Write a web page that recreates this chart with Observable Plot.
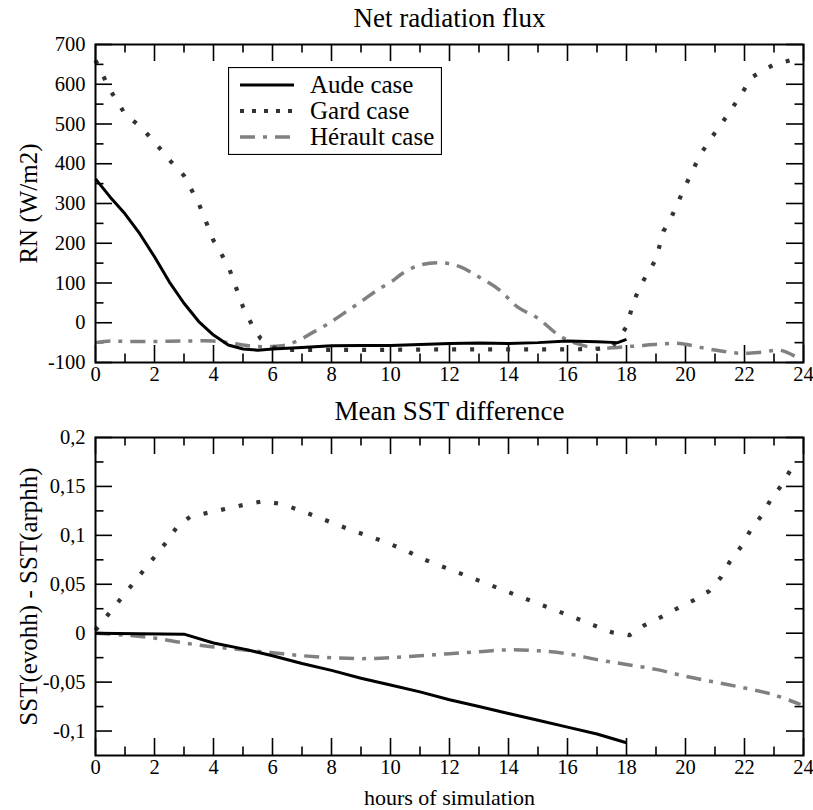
<!DOCTYPE html>
<html>
<head>
<meta charset="utf-8">
<script src="https://cdn.jsdelivr.net/npm/d3@7"></script>
<script src="https://cdn.jsdelivr.net/npm/@observablehq/plot@0.6"></script>
<style>
  body { margin: 0; background: #fff; }
  #wrap { position: relative; width: 813px; height: 810px; font-family: "Liberation Serif", "Times New Roman", Times, serif; }
  #wrap svg { display: block; }
  #wrap svg text { font-family: "Liberation Serif", "Times New Roman", Times, serif; }
</style>
</head>
<body>
<div id="wrap"></div>
<script>
// ---------- data ----------
const seriesNames = ["Aude case", "Gard case", "Hérault case"];

// Top panel: Net radiation flux (W/m2)
const rnAudeH = [0,0.5,1,1.5,2,2.5,3,3.5,4,4.5,5,5.5,6,7,8,9,10,11,12,13,14,15,16,17,17.7,18];
const rnAudeV = [362,316,274,224,166,103,49,3,-31,-56,-66,-69,-66,-62,-58,-57,-57,-55,-52,-51,-52,-50,-46,-48,-50,-42];

const rnGardH = [0,0.5,1,1.5,2,2.5,3,3.5,4,4.5,5,5.3,5.6,6,6.5,8,10,12,14,16,17,17.5,17.75,18,18.25,18.5,19,19.25,19.5,20,20.5,21,21.5,22,22.25,22.6,23,23.6,23.8];
const rnGardV = [660,585,525,495,455,410,370,300,207,143,40,-5,-40,-62,-68,-68,-68,-67,-67,-67,-66,-62,-38,-10,55,97,160,230,262,345,423,478,530,588,618,633,650,661,662];

const rnHerH = [0,0.5,1,2,3,4,4.5,5,5.5,6,6.5,7,7.4,7.9,8.4,9,9.55,10.1,10.4,11,11.7,12.35,13,13.7,14.3,15,15.7,16.3,17,17.7,18.4,19.1,19.8,20.5,21.2,21.9,22.6,23.2,23.7];
const rnHerV = [-50,-46,-47,-47,-46,-46,-50,-56,-60,-60,-55,-40,-23,-2,23,53,82,107,124,145,151,141,115,82,40,11,-31,-52,-64,-62,-58,-54,-52,-62,-71,-77,-74,-69,-84];

// Bottom panel: Mean SST difference
const sstAudeH = [0,3,4,5,6,7,8,9,10,11,12,13,14,15,16,17,18];
const sstAudeV = [0,-0.001,-0.010,-0.016,-0.023,-0.031,-0.038,-0.046,-0.053,-0.060,-0.068,-0.075,-0.082,-0.089,-0.096,-0.103,-0.112];

const sstGardH = [0,0.4,0.8,1.2,1.6,2,2.4,2.75,3.2,3.8,4.4,5,5.7,6.3,6.9,7.5,8.1,8.7,9.3,9.9,10.5,11,11.6,12.2,12.8,13.4,14,14.6,15.2,15.8,16.4,16.9,17.5,18.1,18.6,19.2,19.7,20.3,20.8,21.2,21.5,21.9,22.2,22.6,22.9,23.3,23.6,23.8];
const sstGardV = [0.003,0.018,0.033,0.048,0.063,0.078,0.093,0.108,0.119,0.123,0.127,0.131,0.135,0.132,0.126,0.119,0.112,0.105,0.099,0.092,0.085,0.077,0.070,0.063,0.056,0.049,0.042,0.035,0.028,0.021,0.014,0.008,0.001,-0.002,0.008,0.017,0.025,0.034,0.043,0.057,0.073,0.089,0.105,0.121,0.137,0.153,0.169,0.175];

const sstHerH = [0,1,2,3,4,5,6,7,8,9,10,11,12,13,14,15,16,17,18,19,20,21,22,23,23.9];
const sstHerV = [0,-0.002,-0.005,-0.010,-0.014,-0.017,-0.020,-0.023,-0.025,-0.026,-0.025,-0.023,-0.021,-0.019,-0.017,-0.018,-0.021,-0.027,-0.032,-0.037,-0.044,-0.050,-0.056,-0.063,-0.073];

// ticks
const xMajor = [0,2,4,6,8,10,12,14,16,18,20,22,24];
const xMinor = [1,3,5,7,9,11,13,15,17,19,21,23];
const rnMajor = [-100,0,100,200,300,400,500,600,700];
const rnMinor = [-50,50,150,250,350,450,550,650];
const sstMajor = [-0.1,-0.05,0,0.05,0.1,0.15,0.2];
const sstMinor = [-0.075,-0.025,0.025,0.075,0.125,0.175];

const titles = ["Net radiation flux", "Mean SST difference"];
const yLabels = ["RN (W/m2)", "SST(evohh) - SST(arphh)"];
const xLabel = "hours of simulation";

// ---------- styles ----------
const FONT = "'Liberation Serif', 'Times New Roman', Times, serif";
const FS_TICK = 20.5, FS_TITLE = 27, FS_YLAB = 25, FS_XLAB = 22, FS_LEG = 25;
const styles = {
  "Aude case":    {stroke: "#000000", strokeWidth: 3, strokeDasharray: null, curve: "linear"},
  "Gard case":    {stroke: "#333333", strokeWidth: 4.2, strokeDasharray: "4,14", curve: "linear"},
  "Hérault case": {stroke: "#808080", strokeWidth: 3.5, strokeDasharray: "15,8,4,8", curve: "catmull-rom"}
};

const zipS = (hs, vs) => hs.map((h, i) => ({h, v: vs[i]}));

function panel({height, marginTop, marginBottom, yDomain, major, minor, fmt, series, title, ylabel, xlab}) {
  const W = 813, ML = 95, MR = 10;
  const innerW = W - ML - MR;
  const innerH = height - marginTop - marginBottom;
  const MAJ = 17, MIN = 8.5;
  const tickStyle = {stroke: "black", strokeWidth: 1.6};
  const marks = [];
  marks.push(Plot.tickX(xMajor, {x: d => d, insetTop: innerH - MAJ, ...tickStyle}));
  marks.push(Plot.tickX(xMinor, {x: d => d, insetTop: innerH - MIN, ...tickStyle}));
  marks.push(Plot.tickX(xMajor, {x: d => d, insetBottom: innerH - MAJ, ...tickStyle}));
  marks.push(Plot.tickX(xMinor, {x: d => d, insetBottom: innerH - MIN, ...tickStyle}));
  marks.push(Plot.tickY(major, {y: d => d, insetRight: innerW - MAJ, ...tickStyle}));
  marks.push(Plot.tickY(minor, {y: d => d, insetRight: innerW - MIN, ...tickStyle}));
  marks.push(Plot.tickY(major, {y: d => d, insetLeft: innerW - MAJ, ...tickStyle}));
  marks.push(Plot.tickY(minor, {y: d => d, insetLeft: innerW - MIN, ...tickStyle}));
  for (const s of series) {
    const st = styles[s.name];
    marks.push(Plot.line(s.data, {x: "h", y: "v", stroke: st.stroke, strokeWidth: st.strokeWidth,
      strokeDasharray: st.strokeDasharray, curve: st.curve, strokeLinecap: "butt", strokeLinejoin: "round"}));
  }
  marks.push(Plot.frame({stroke: "black", strokeWidth: 2}));
  marks.push(Plot.axisX(xMajor, {tickSize: 0, tickPadding: 4, fontSize: FS_TICK, label: null, tickFormat: d => String(d)}));
  marks.push(Plot.axisY(major, {tickSize: 0, tickPadding: 10, fontSize: FS_TICK, label: null, tickFormat: fmt}));
  marks.push(Plot.text([title], {frameAnchor: "top", dy: -26, fontSize: FS_TITLE, fill: "black", fontFamily: FONT,
    textAnchor: "middle", lineAnchor: "middle"}));
  marks.push(Plot.text([ylabel], {frameAnchor: "left", dx: -67, rotate: -90, fontSize: FS_YLAB, fill: "black",
    textAnchor: "middle", lineAnchor: "middle", fontFamily: FONT}));
  if (xlab) marks.push(Plot.text([xlab], {frameAnchor: "bottom", dy: 42, fontSize: FS_XLAB, fill: "black", fontFamily: FONT,
    textAnchor: "middle", lineAnchor: "middle"}));
  return Plot.plot({
    width: W, height, marginLeft: ML, marginRight: MR, marginTop, marginBottom,
    x: {domain: [0, 24], axis: null},
    y: {domain: yDomain, axis: null},
    style: {fontFamily: FONT, fontSize: FS_TICK + "px", color: "black", background: "white", overflow: "visible"},
    marks
  });
}

const topPanel = panel({
  height: 395, marginTop: 44, marginBottom: 33, yDomain: [-100, 700],
  major: rnMajor, minor: rnMinor, fmt: d => String(d),
  series: [
    {name: "Hérault case", data: zipS(rnHerH, rnHerV)},
    {name: "Gard case", data: zipS(rnGardH, rnGardV)},
    {name: "Aude case", data: zipS(rnAudeH, rnAudeV)}
  ],
  title: titles[0], ylabel: yLabels[0], xlab: null
});

const bottomPanel = panel({
  height: 415, marginTop: 42, marginBottom: 55, yDomain: [-0.125, 0.2],
  major: sstMajor, minor: sstMinor, fmt: d => String(d).replace(".", ","),
  series: [
    {name: "Hérault case", data: zipS(sstHerH, sstHerV)},
    {name: "Gard case", data: zipS(sstGardH, sstGardV)},
    {name: "Aude case", data: zipS(sstAudeH, sstAudeV)}
  ],
  title: titles[1], ylabel: yLabels[1], xlab: xLabel
});

const wrap = document.getElementById("wrap");
wrap.appendChild(topPanel);
wrap.appendChild(bottomPanel);

// legend (overlay inside top panel)
const ns = "http://www.w3.org/2000/svg";
const lg = document.createElementNS(ns, "svg");
lg.setAttribute("width", 214);
lg.setAttribute("height", 88);
lg.style.position = "absolute";
lg.style.left = "228px";
lg.style.top = "67px";
const box = document.createElementNS(ns, "rect");
box.setAttribute("x", 0.5); box.setAttribute("y", 0.5);
box.setAttribute("width", 213); box.setAttribute("height", 87);
box.setAttribute("fill", "white"); box.setAttribute("stroke", "black"); box.setAttribute("stroke-width", 1.2);
lg.appendChild(box);
seriesNames.forEach((name, i) => {
  const st = styles[name];
  const y = 18 + i * 26;
  const ln = document.createElementNS(ns, "line");
  ln.setAttribute("x1", 12); ln.setAttribute("x2", 66);
  ln.setAttribute("y1", y); ln.setAttribute("y2", y);
  ln.setAttribute("stroke", st.stroke);
  ln.setAttribute("stroke-width", st.strokeWidth);
  if (st.strokeDasharray) ln.setAttribute("stroke-dasharray", name === "Gard case" ? "4,8" : st.strokeDasharray);
  lg.appendChild(ln);
  const t = document.createElementNS(ns, "text");
  t.setAttribute("x", 82); t.setAttribute("y", y);
  t.setAttribute("dy", "0.32em");
  t.setAttribute("font-size", FS_LEG);
  t.style.fontFamily = FONT;
  t.textContent = name;
  lg.appendChild(t);
});
wrap.appendChild(lg);
</script>
</body>
</html>
